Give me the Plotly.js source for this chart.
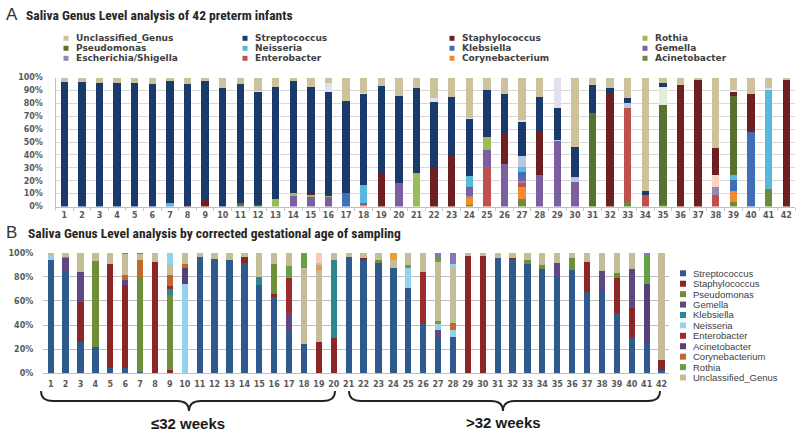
<!DOCTYPE html>
<html><head><meta charset="utf-8">
<script src="https://cdn.plot.ly/plotly-3.0.1.min.js"></script>
<style>html,body{margin:0;padding:0;background:#fff}#chart{width:800px;height:433px}</style>
</head><body><div id="chart"></div>
<script>
// ---------- categories ----------
const subjects = ['1','2','3','4','5','6','7','8','9','10','11','12','13','14','15','16','17','18','19','20','21',
  '22','23','24','25','26','27','28','29','30','31','32','33','34','35','36','37','38','39','40','41','42'];

// ---------- Panel A: 42 preterm infants (percent) ----------
const uncA    = [3.5,3.5,4,4,4,5.4,2.5,5,3,8.5, 5.4,10.6,7.7,3,7.7,4.6,18,12,6.2,14.4, 8.5,16.2,15,31.2,9.3,12.9,32.9,15,0,53.6, 5.8,8,16.1,88,4.5,5.5,2,55,9.6,13, 8.5,2];
const otherA1 = [0,0,0,0,0,0,0,0,0,0, 0,1,0,0,0,6.5,0,1,0,0, 0,2.6,0,1,0,0,1.8,0,24,0, 0,0,0,0,0,0,0,0,1.8,0, 1.5,0];
const strepA  = [96.5,96.5,96,96,96,94.6,94.5,93.5,92,91.5, 91.6,87.4,86.8,86.7,81.6,80.6,71.7,70.7,68.5,67.6, 65.2,50.8,45.8,44.1,36.6,30.9,26.2,27,24.5,23.4, 22,4,3.3,3,2.5,0,0,0,0,0, 0,0];
const otherA2 = [0,0,0,0,0,0,0,0,0,0, 0,0,0,0,0,0,0,0,0,0, 0,0,0,0,0,0,0,0,0,0, 0,0,0,0,14.2,0,0,0,0,0, 0,0];
const otherA3 = [0,0,0,0,0,0,0,0,0,0, 0,0,0,0,0,0,0,0,0,0, 0,0,0,0,0,0,8.3,0,1,3.8, 0,0,4.5,0,0,0,0,0,0,0, 0,0];
const staphA  = [0,0,0,0,0,0,0,1.5,5,0, 0,0,0,0,1.5,0,0,0,25.3,0, 0,30.4,39.2,0,0,23.5,0,33.5,0,0, 0,88,0,0,0,94.5,98,20.5,2.6,29, 0,98];
const otherA4 = [0,0,0,0,0,0,0,0,0,0, 0,0,0,0,0,0,0,0,0,0, 0,0,0,0,0,0,0,0,0,0, 0,0,0,0,0,0,0,9,0,0, 0,0];
const rothiaA = [0,0,0,0,0,0,0,0,0,0, 0,0,5.5,1.8,1.5,1.3,0,0,0,0, 26.3,0,0,0,10.3,0,0,0,0,0, 0,0,0,0,0,0,0,0,0,0, 0,0];
const pseudoA = [0,0,0,0,0,0,0,0,0,0, 2,1,0,0,0,0,0,0,0,0, 0,0,0,0,0,0,0,0,0,0, 72.2,0,0,0,77.5,0,0,0,61.6,0, 0,0];
const neisA   = [0,0,0,0,0,0,3,0,0,0, 0,0,0,0,0,0,0,13.7,0,0, 0,0,0,8.2,0,0,3.8,0,0,0, 0,0,0,0,0,0,0,0,3.9,0, 76.5,0];
const klebA   = [0,0,0,0,0,0,0,0,0,0, 0,0,0,0,0,0,10.3,0,0,0, 0,0,0,1.5,0,0,4,0,0,0, 0,0,0,0,0,0,0,0,8.6,58, 0,0];
const gemA    = [0,0,0,0,0,0,0,0,0,0, 1,0,0,8.5,7.7,7,0,1.3,0,18, 0,0,0,6,13.4,32.7,3,24.5,50.5,19.2, 0,0,0,0,0,0,0,0,0,0, 0,0];
const eschA   = [0,0,0,0,0,0,0,0,0,0, 0,0,0,0,0,0,0,0,0,0, 0,0,0,1.5,0,0,2,0,0,0, 0,0,0,0,0,0,0,6.5,0,0, 0,0];
const enteroA = [0,0,0,0,0,0,0,0,0,0, 0,0,0,0,0,0,0,0,0,0, 0,0,0,0,30.4,0,3,0,0,0, 0,0,72.4,9,0,0,0,9,0,0, 0,0];
const coryA   = [0,0,0,0,0,0,0,0,0,0, 0,0,0,0,0,0,0,1.3,0,0, 0,0,0,5,0,0,9,0,0,0, 0,0,0,0,0,0,0,0,8.5,0, 0,0];
const acinA   = [0,0,0,0,0,0,0,0,0,0, 0,0,0,0,0,0,0,0,0,0, 0,0,0,1.5,0,0,6,0,0,0, 0,0,3.7,0,1.3,0,0,0,3.4,0, 13.5,0];

// ---------- Panel B: by corrected gestational age (percent) ----------
const strepB  = [94,84.2,26.2,22.1,4.1,4.1,1.4,0,0,0, 96.7,94.5,94,91.2,73.2,63.5,34.5,24,0,0, 96.7,93.9,91.2,87,71,40.6,30.4,30.4,0,0, 95.9,94.5,90.3,86.5,80.1,85.6,67.1,67.1,49.7,30.4, 24,2.8];
const staphB  = [0,0,33.2,0,86.2,69,0,92.5,2.8,0, 0,0,0,5.5,0,2,0,0,26.2,29, 0,1.4,0,0,0,0,0,0,97.5,97.5, 0,1,0,0,0,0,25.4,0,29.6,24, 0,8.3];
const pseudoB = [0,0,0,71,0,0,78.6,0,62,0, 0,0,0,0,0,24.8,0,0,0,0, 0,0,2.7,0,0,0,0,0,0,0, 0,0,3.5,3.3,0,9.7,0,0,3.6,0, 0,0];
const gemB    = [0,11,24.8,0,0,4.2,0,0,0,0, 0,0,0,0,0,0,15.2,0,0,0, 0,0,0,0,0,0,5.5,0,0,0, 0,0,0,0,11.1,0,0,17.7,0,32.1, 0,0];
const klebB   = [0,0,0,0,0,0,0,0,5.4,0, 0,0,0,0,6.9,0,0,0,0,64.9, 0,0,0,0,0,0,0,0,0,0, 0,0,0,0,0,0,0,0,0,0, 0,0];
const neisB   = [3,0,0,0,0,0,0,0,0,73.7, 0,0,0,0,0,0,0,0,0,0, 0,0,0,0,16,0,5,5.5,0,0, 0,0,0,0,0,0,0,0,0,0, 0,0];
const enteroB = [0,0,0,0,0,0,0,0,2.5,0, 0,0,0,0,0,0,29.6,0,0,0, 0,0,0,0,0,43.7,0,0,0,0, 0,0,0,0,0,0,0,0,0,0, 0,0];
const acinB   = [0,0,0,0,0,0,0,0,0,13.8, 0,0,0,0,0,0,0,0,0,0, 0,0,0,0,0,0,0,0,0,0, 0,0,0,0,0,0,0,0,0,0, 49.8,0];
const coryB   = [0,0,0,0,0,4.2,14,0,9,2.8, 0,0,0,0,0,0,0,0,0,0, 0,0,0,0,0,0,0,5.5,0,0, 0,0,0,0,0,0,0,0,0,0, 0,0];
const rothiaB = [0,1.5,0,0,0,0,0,0,0,0, 0,0,0,0,0,0,9.7,0,0,0, 0,0,0,0,2.8,0,2.5,0,0,0, 0,0,0,0,0,0,0,0,0,0, 24.3,0];
const uncB    = [3,3.3,15.8,6.9,9.7,17.5,5,7.5,8,9.7, 3.3,5.5,6,3.3,19.9,9.7,11,63,59.4,6.1, 3.3,4.7,6.1,6.9,10.2,15.7,49,45.6,2.5,2.5, 4.1,4.5,6.2,10.2,8.8,4.7,7.5,15.2,17.1,13.5, 0,88.9];
const topOrangeB = [0,0,0,0,0,0,0,0,0,0, 0,0,0,0,0,0,0,0,4.1,0, 0,0,0,6.1,0,0,0,0,0,0, 0,0,0,0,0,0,0,0,0,0, 0,0];
const topBlueB   = [0,0,0,0,0,0,0,0,10.3,0, 0,0,0,0,0,0,0,0,1.4,0, 0,0,0,0,0,0,0,4,0,0, 0,0,0,0,0,0,0,0,0,0, 0,0];
const topGreenB  = [0,0,0,0,0,0,0,0,0,0, 0,0,0,0,0,0,0,13,0,0, 0,0,0,0,0,0,2.8,0,0,0, 0,0,0,0,0,0,0,0,0,0, 0,0];
const topPurpleB = [0,0,0,0,0,1,1,0,0,0, 0,0,0,0,0,0,0,0,0,0, 0,0,0,0,0,0,4.8,9,0,0, 0,0,0,0,0,0,0,0,0,0, 1.9,0];
const topPeachB  = [0,0,0,0,0,0,0,0,0,0, 0,0,0,0,0,0,0,0,8.9,0, 0,0,0,0,0,0,0,0,0,0, 0,0,0,0,0,0,0,0,0,0, 0,0];

// ---------- legend labels ----------
const legendA = ['Unclassified_Genus','Streptococcus','Staphylococcus','Rothia',
                 'Pseudomonas','Neisseria','Klebsiella','Gemella',
                 'Escherichia/Shigella','Enterobacter','Corynebacterium','Acinetobacter'];
const legendB = ['Streptococcus','Staphylococcus','Pseudomonas','Gemella','Klebsiella','Neisseria',
                 'Enterobacter','Acinetobacter','Corynebacterium','Rothia','Unclassified_Genus'];

// ---------- styles ----------
const colA = {
  'Unclassified_Genus':'#CCC39D','Streptococcus':'#1A3A6B','Staphylococcus':'#6E1F1F','Rothia':'#9BBB59',
  'Pseudomonas':'#57712F','Neisseria':'#5BB8DD','Klebsiella':'#3F6FB8','Gemella':'#7B5FA0',
  'Escherichia/Shigella':'#918AB2','Enterobacter':'#C0504D','Corynebacterium':'#F28A2E','Acinetobacter':'#6E8B3D',
  'o1':'#E2DFEE','o2':'#E3ECD6','o3':'#B9C8E0','o4':'#F9D3C0'};
const colB = {
  'Streptococcus':'#2E5A8D','Staphylococcus':'#8C2626','Pseudomonas':'#6F8E3A','Gemella':'#5E4782',
  'Klebsiella':'#2D8690','Neisseria':'#93D2E8','Enterobacter':'#9C2B2B','Acinetobacter':'#56407A',
  'Corynebacterium':'#C0692A','Rothia':'#66A045','Unclassified_Genus':'#C5BD98','peach':'#F8C9B5','lpurple':'#8B76B3','orange':'#EE9A3E'};

function bar(y, color, name, ax) {
  return {type:'bar', x:subjects, y:y, name:name, xaxis:ax[0], yaxis:ax[1], width:0.42,
    marker:{color:color, line:{width:0}}, showlegend:false,
    hovertemplate:name+' %{x}: %{y}%<extra></extra>'};
}
const A = ['x','y'], B = ['x2','y2'];
const data = [
  bar(acinA,colA['Acinetobacter'],'Acinetobacter',A),
  bar(coryA,colA['Corynebacterium'],'Corynebacterium',A),
  bar(enteroA,colA['Enterobacter'],'Enterobacter',A),
  bar(eschA,colA['Escherichia/Shigella'],'Escherichia/Shigella',A),
  bar(gemA,colA['Gemella'],'Gemella',A),
  bar(klebA,colA['Klebsiella'],'Klebsiella',A),
  bar(neisA,colA['Neisseria'],'Neisseria',A),
  bar(pseudoA,colA['Pseudomonas'],'Pseudomonas',A),
  bar(rothiaA,colA['Rothia'],'Rothia',A),
  bar(otherA4,colA['o4'],'Other',A),
  bar(staphA,colA['Staphylococcus'],'Staphylococcus',A),
  bar(otherA3,colA['o3'],'Other',A),
  bar(otherA2,colA['o2'],'Other',A),
  bar(strepA,colA['Streptococcus'],'Streptococcus',A),
  bar(otherA1,colA['o1'],'Other',A),
  bar(uncA,colA['Unclassified_Genus'],'Unclassified_Genus',A),

  bar(strepB,colB['Streptococcus'],'Streptococcus',B),
  bar(staphB,colB['Staphylococcus'],'Staphylococcus',B),
  bar(pseudoB,colB['Pseudomonas'],'Pseudomonas',B),
  bar(gemB,colB['Gemella'],'Gemella',B),
  bar(klebB,colB['Klebsiella'],'Klebsiella',B),
  bar(neisB,colB['Neisseria'],'Neisseria',B),
  bar(enteroB,colB['Enterobacter'],'Enterobacter',B),
  bar(acinB,colB['Acinetobacter'],'Acinetobacter',B),
  bar(coryB,colB['Corynebacterium'],'Corynebacterium',B),
  bar(rothiaB,colB['Rothia'],'Rothia',B),
  bar(uncB,colB['Unclassified_Genus'],'Unclassified_Genus',B),
  bar(topOrangeB,colB['orange'],'Other',B),
  bar(topBlueB,colB['Neisseria'],'Other',B),
  bar(topGreenB,colB['Rothia'],'Other',B),
  bar(topPurpleB,colB['lpurple'],'Other',B),
  bar(topPeachB,colB['peach'],'Other',B)
];

// ---------- layout helpers (pixel -> paper) ----------
const px = v => v/800, py = v => 1 - v/433;
const tickFont = {family:'DejaVu Sans', size:8, color:'#595959', weight:'bold'};
const annotations = [], shapes = [];

function txt(x, y, text, font, anchor) {
  annotations.push({xref:'paper', yref:'paper', x:px(x), y:py(y), text:text, showarrow:false,
    xanchor:anchor||'left', yanchor:'middle', font:font});
}
// titles
const titleFont = {family:'Liberation Sans Narrow, Roboto Condensed, Arial Narrow, Lato, sans-serif', size:13.5, color:'#262626', weight:'bold'};
txt(4, 15, 'A', {family:'Liberation Sans', size:17, color:'#333'});
txt(24, 15, 'Saliva Genus Level analysis of 42 preterm infants', titleFont);
txt(4, 233, 'B', {family:'Liberation Sans', size:17, color:'#333'});
txt(26, 233, 'Saliva Genus Level analysis by corrected gestational age of sampling', titleFont);

// legend A (4 columns x 3 rows)
const colX = [66, 245, 452, 645], rowY = [38.3, 48.3, 58.3];
legendA.forEach((nm, i) => {
  const cx = colX[i % 4], cy = rowY[Math.floor(i / 4)];
  shapes.push({type:'rect', xref:'paper', yref:'paper', x0:px(cx-2.5), x1:px(cx+2.5), y0:py(cy+2.5), y1:py(cy-2.5),
    fillcolor:colA[nm], line:{width:0}});
  txt(cx+8, cy, nm, {family:'DejaVu Sans', size:9, color:'#404040', weight:'bold'});
});
// legend B (one column)
legendB.forEach((nm, i) => {
  const cx = 683, cy = 273.3 + i*10.42;
  shapes.push({type:'rect', xref:'paper', yref:'paper', x0:px(cx-3), x1:px(cx+3), y0:py(cy+3), y1:py(cy-3),
    fillcolor:colB[nm], line:{width:0}});
  txt(cx+8, cy, nm, {family:'Liberation Sans', size:9.5, color:'#404040'});
});

// braces under panel B
function brace(x0, x1, tip) {
  const yT = 391, yM = 401, yP = 411, r = 12;
  const P = (x, y) => px(x).toFixed(5) + ',' + py(y).toFixed(5);
  return 'M' + P(x0,yT) + ' Q' + P(x0,yM) + ' ' + P(x0+r,yM) + ' L' + P(tip-r,yM) +
         ' Q' + P(tip,yM) + ' ' + P(tip,yP) + ' Q' + P(tip,yM) + ' ' + P(tip+r,yM) +
         ' L' + P(x1-r,yM) + ' Q' + P(x1,yM) + ' ' + P(x1,yT);
}
shapes.push({type:'path', xref:'paper', yref:'paper', path:brace(41,335,189), line:{color:'#222', width:1.8}});
shapes.push({type:'path', xref:'paper', yref:'paper', path:brace(349,660,503), line:{color:'#222', width:1.8}});
const weekFont = {family:'Liberation Sans', size:15, color:'#1a1a1a', weight:'bold'};
txt(188, 423, '≤32 weeks', weekFont, 'center');
txt(503, 422, '>32 weeks', weekFont, 'center');

const layout = {
  width:800, height:433, margin:{l:0, r:0, t:0, b:0},
  paper_bgcolor:'#ffffff', plot_bgcolor:'rgba(0,0,0,0)',
  barmode:'stack', showlegend:false,
  xaxis:{domain:[px(55.5), px(795)], anchor:'y', type:'category', tickfont:tickFont, tickangle:0,
    ticks:'outside', tickson:'boundaries', ticklen:3, tickcolor:'#C8C8C8',
    showline:true, linecolor:'#BFBFBF', showgrid:false, ticklabelstandoff:1, fixedrange:true},
  yaxis:{domain:[py(206.5), py(77.5)], anchor:'x', range:[0,100], dtick:10, ticksuffix:'%',
    showgrid:true, gridcolor:'#D9D9D9', showline:true, linecolor:'#BFBFBF', zeroline:false,
    tickfont:tickFont, ticks:'', ticklabelstandoff:10, fixedrange:true},
  xaxis2:{domain:[px(43.25), px(669)], anchor:'y2', type:'category', tickfont:tickFont, tickangle:0,
    ticks:'', showline:true, linecolor:'#BFBFBF', showgrid:false, ticklabelstandoff:3, fixedrange:true},
  yaxis2:{domain:[py(373.3), py(252.7)], anchor:'x2', range:[0,100], dtick:20, ticksuffix:'%',
    showgrid:true, gridcolor:'#BFBFBF', showline:false, zeroline:false,
    tickfont:tickFont, ticks:'', ticklabelstandoff:9, fixedrange:true},
  annotations:annotations, shapes:shapes
};

Plotly.newPlot('chart', data, layout, {displayModeBar:false, staticPlot:true});
</script></body></html>
